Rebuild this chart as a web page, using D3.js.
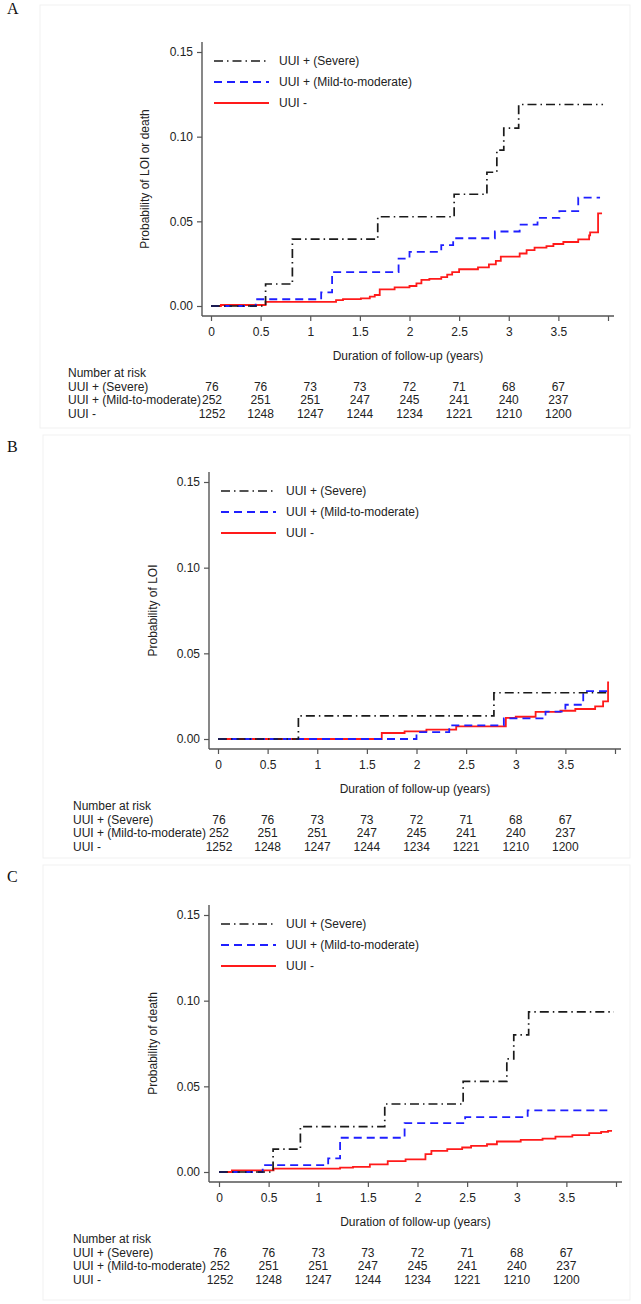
<!DOCTYPE html>
<html>
<head>
<meta charset="utf-8">
<script src="https://cdn.jsdelivr.net/npm/d3@7"></script>
<style>
  html, body { margin: 0; padding: 0; background: #fff; }
  svg { display: block; }
  text { font-family: "Liberation Sans", Arial, sans-serif; fill: #222; }
</style>
</head>
<body>
<svg id="chart" width="641" height="1304"></svg>
<script>
// ---------------- DATA ----------------
const seriesNames = ["UUI + (Severe)", "UUI + (Mild-to-moderate)", "UUI -"];
const xTickValues = [0, 0.5, 1, 1.5, 2, 2.5, 3, 3.5, 4];
const xTickLabels = ["0", "0.5", "1", "1.5", "2", "2.5", "3", "3.5", ""];
const yTickValues = [0, 0.05, 0.10, 0.15];
const riskTimes = [0, 0.5, 1, 1.5, 2, 2.5, 3, 3.5];
const riskSevere = [76, 76, 73, 73, 72, 71, 68, 67];
const riskMild = [252, 251, 251, 247, 245, 241, 240, 237];
const riskNone = [1252, 1248, 1247, 1244, 1234, 1221, 1210, 1200];

// Panel A: LOI or death
const aSevereT = [0, 0.55, 0.82, 1.68, 2.45, 2.78, 2.88, 2.95, 3.10, 3.95];
const aSevereP = [0, 0.013, 0.0395, 0.0527, 0.066, 0.079, 0.092, 0.105, 0.119, 0.119];
const aMildT = [0, 0.45, 1.11, 1.22, 1.89, 2.00, 2.32, 2.44, 2.86, 3.11, 3.29, 3.51, 3.70, 3.92];
const aMildP = [0, 0.004, 0.008, 0.020, 0.028, 0.032, 0.036, 0.040, 0.044, 0.048, 0.052, 0.056, 0.064, 0.064];
const aNoneT = [0, 0.10, 0.55, 1.26, 1.33, 1.51, 1.60, 1.65, 1.70, 1.85, 2.00, 2.07, 2.12, 2.20, 2.32, 2.38, 2.43, 2.50, 2.69, 2.80, 2.87, 2.92, 3.11, 3.18, 3.26, 3.38, 3.45, 3.55, 3.70, 3.81, 3.82, 3.90, 3.94];
const aNoneP = [0, 0.0006, 0.0024, 0.0035, 0.0041, 0.0045, 0.0055, 0.0065, 0.0098, 0.011, 0.0118, 0.0134, 0.0154, 0.016, 0.017, 0.0185, 0.020, 0.0217, 0.0228, 0.0246, 0.0266, 0.0291, 0.031, 0.033, 0.0345, 0.0354, 0.0366, 0.0378, 0.0394, 0.0417, 0.0435, 0.0547, 0.0547];

// Panel B: LOI
const bSevereT = [0, 0.81, 2.78, 3.93];
const bSevereP = [0, 0.0135, 0.027, 0.027];
const bMildT = [0, 2.00, 2.33, 2.88, 3.30, 3.50, 3.68, 3.93];
const bMildP = [0, 0.004, 0.008, 0.012, 0.016, 0.020, 0.028, 0.028];
const bNoneT = [0, 1.65, 1.88, 2.10, 2.40, 2.90, 3.00, 3.20, 3.45, 3.60, 3.80, 3.88, 3.93, 3.94];
const bNoneP = [0, 0.0035, 0.0045, 0.0055, 0.0074, 0.0123, 0.013, 0.0158, 0.0165, 0.0175, 0.019, 0.022, 0.033, 0.033];

// Panel C: death
const cSevereT = [0, 0.545, 0.82, 1.67, 2.46, 2.90, 2.97, 3.12, 3.98];
const cSevereP = [0, 0.0133, 0.0265, 0.0397, 0.0529, 0.066, 0.080, 0.0935, 0.0935];
const cMildT = [0, 0.44, 1.10, 1.22, 1.87, 2.48, 3.11, 3.96];
const cMildP = [0, 0.004, 0.008, 0.020, 0.0285, 0.032, 0.036, 0.036];
const cNoneT = [0, 0.13, 0.55, 1.22, 1.35, 1.52, 1.70, 1.88, 2.08, 2.14, 2.30, 2.45, 2.54, 2.70, 2.80, 3.04, 3.26, 3.39, 3.56, 3.73, 3.85, 3.92, 3.96];
const cNoneP = [0, 0.001, 0.002, 0.0025, 0.003, 0.0045, 0.0064, 0.0074, 0.0104, 0.0123, 0.0133, 0.0143, 0.0152, 0.0162, 0.0178, 0.0188, 0.0195, 0.0207, 0.0215, 0.0227, 0.0234, 0.024, 0.024];

// ---------------- STYLE / LAYOUT ----------------
const styles = [
  { color: "#1a1a1a", dash: "9,4,1.5,4", width: 1.7 },
  { color: "#1f1fff", dash: "8,5", width: 1.8 },
  { color: "#ff1a1a", dash: null, width: 1.8 }
];

const panels = [
  { label: "A", labelY: 14, ylabel: "Probability of LOI or death", yAxisX: 202, x0: 211, x4: 608, y0: 306, y15: 52, tableX: 68, ylabelX: 149,
    border: [40, 5, 630, 428],
    series: [[aSevereT, aSevereP], [aMildT, aMildP], [aNoneT, aNoneP]] },
  { label: "B", labelY: 452, ylabel: "Probability of LOI", yAxisX: 209, x0: 218, x4: 615, y0: 739, y15: 482, tableX: 73, ylabelX: 157,
    border: [43, 435, 630, 858],
    series: [[bSevereT, bSevereP], [bMildT, bMildP], [bNoneT, bNoneP]] },
  { label: "C", labelY: 882, ylabel: "Probability of death", yAxisX: 209, x0: 219, x4: 616, y0: 1172, y15: 915, tableX: 73, ylabelX: 157,
    border: [43, 865, 630, 1300],
    series: [[cSevereT, cSevereP], [cMildT, cMildP], [cNoneT, cNoneP]] }
];

const svg = d3.select("#chart");
const axisColor = "#555";

panels.forEach(p => {
  const g = svg.append("g");

  // faint panel frame
  g.append("rect")
    .attr("x", p.border[0]).attr("y", p.border[1])
    .attr("width", p.border[2] - p.border[0]).attr("height", p.border[3] - p.border[1])
    .attr("fill", "none").attr("stroke", "#f1f1f1").attr("stroke-width", 1);

  // panel letter
  g.append("text").attr("x", 7).attr("y", p.labelY)
    .style("font-family", "'Liberation Serif', 'Times New Roman', serif")
    .style("font-size", "16px").style("fill", "#111")
    .text(p.label);

  const x = d3.scaleLinear().domain([0, 4]).range([p.x0, p.x4]);
  const y = d3.scaleLinear().domain([0, 0.15]).range([p.y0, p.y15]);
  const xAxisY = p.y0 + 10;

  // Y axis
  const yAx = g.append("g").attr("transform", `translate(${p.yAxisX},0)`)
    .call(d3.axisLeft(y).tickValues(yTickValues).tickFormat(d3.format(".2f")).tickSize(5).tickPadding(4));
  yAx.select(".domain").remove();
  yAx.selectAll(".tick line").attr("stroke", axisColor).attr("stroke-width", 1.2);
  yAx.selectAll(".tick text").style("font-size", "12px").style("font-family", "'Liberation Sans', Arial, sans-serif").attr("fill", "#222");
  g.append("line").attr("x1", p.yAxisX).attr("x2", p.yAxisX)
    .attr("y1", p.y15 - 10).attr("y2", xAxisY)
    .attr("stroke", axisColor).attr("stroke-width", 1.4);

  // X axis
  const xAx = g.append("g").attr("transform", `translate(0,${xAxisY})`)
    .call(d3.axisBottom(x).tickValues(xTickValues).tickFormat((d, i) => xTickLabels[i]).tickSize(5).tickPadding(6));
  xAx.select(".domain").remove();
  xAx.selectAll(".tick line").attr("stroke", axisColor).attr("stroke-width", 1.2);
  xAx.selectAll(".tick text").style("font-size", "12px").style("font-family", "'Liberation Sans', Arial, sans-serif").attr("fill", "#222");
  g.append("line").attr("x1", p.yAxisX).attr("x2", p.x4 + 6)
    .attr("y1", xAxisY).attr("y2", xAxisY)
    .attr("stroke", axisColor).attr("stroke-width", 1.4);

  // axis titles
  g.append("text")
    .attr("transform", `translate(${p.ylabelX},${(p.y0 + p.y15) / 2}) rotate(-90)`)
    .attr("text-anchor", "middle").style("font-size", "12px")
    .text(p.ylabel);
  g.append("text")
    .attr("x", (p.yAxisX + p.x4 + 6) / 2).attr("y", p.y0 + 54)
    .attr("text-anchor", "middle").style("font-size", "12px")
    .text("Duration of follow-up (years)");

  // curves (red, blue, then black on top)
  const line = d3.line().x(d => x(d[0])).y(d => y(d[1])).curve(d3.curveStepAfter);
  [2, 1, 0].forEach(si => {
    const [T, P] = p.series[si];
    const pts = T.map((t, i) => [t, P[i]]);
    const st = styles[si];
    g.append("path").datum(pts)
      .attr("d", line)
      .attr("fill", "none")
      .attr("stroke", st.color)
      .attr("stroke-width", st.width)
      .attr("stroke-dasharray", st.dash);
  });

  // legend
  seriesNames.forEach((name, i) => {
    const ly = p.y15 + 9 + i * 21;
    const st = styles[i];
    g.append("line")
      .attr("x1", p.yAxisX + 12).attr("x2", p.yAxisX + 67)
      .attr("y1", ly).attr("y2", ly)
      .attr("stroke", st.color).attr("stroke-width", st.width)
      .attr("stroke-dasharray", st.dash);
    g.append("text")
      .attr("x", p.yAxisX + 77).attr("y", ly + 4)
      .style("font-size", "12px")
      .text(name);
  });

  // number at risk table
  const tY = p.y0 + 71;
  g.append("text").attr("x", p.tableX).attr("y", tY).style("font-size", "12px").text("Number at risk");
  const rows = [riskSevere, riskMild, riskNone];
  rows.forEach((vals, r) => {
    const ry = tY + 13.5 * (r + 1);
    g.append("text").attr("x", p.tableX).attr("y", ry).style("font-size", "12px").text(seriesNames[r]);
    vals.forEach((v, c) => {
      g.append("text")
        .attr("x", x(riskTimes[c]) + (c === 0 ? 1 : 0)).attr("y", ry)
        .attr("text-anchor", "middle").style("font-size", "12px")
        .text(v);
    });
  });
});
</script>
</body>
</html>
